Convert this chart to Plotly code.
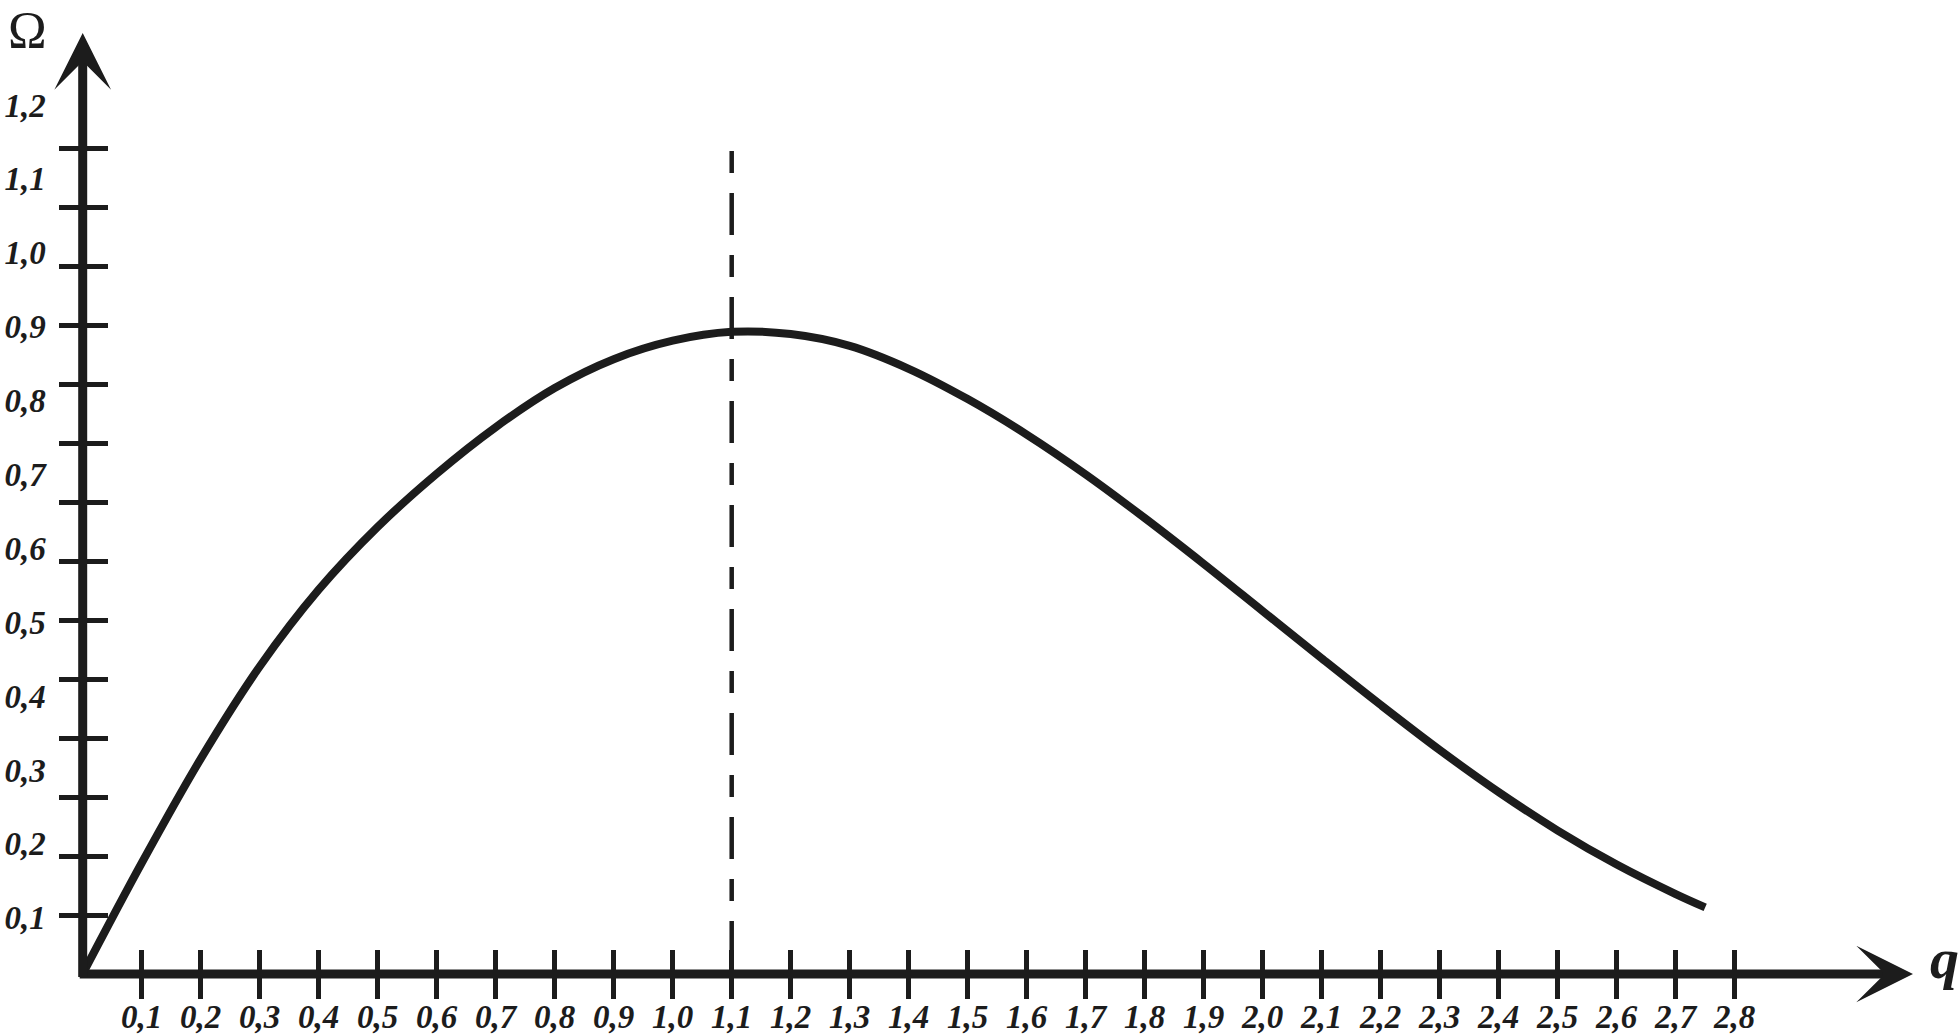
import plotly.graph_objects as go

# ---------------- data ----------------
q_vals = [0.0, 0.1, 0.2, 0.3, 0.4, 0.5, 0.6, 0.7, 0.8, 0.9, 1.0, 1.1, 1.2, 1.3,
          1.4, 1.5, 1.6, 1.7, 1.8, 1.9, 2.0, 2.1, 2.2, 2.3, 2.4, 2.5, 2.6, 2.7, 2.75]
omega_vals = [0.024, 0.174, 0.315, 0.440, 0.544, 0.629, 0.701, 0.764, 0.817, 0.856,
              0.881, 0.893, 0.890, 0.874, 0.843, 0.802, 0.754, 0.700, 0.641, 0.579,
              0.515, 0.451, 0.388, 0.327, 0.270, 0.218, 0.172, 0.132, 0.114]

x_tick_vals = [0.1, 0.2, 0.3, 0.4, 0.5, 0.6, 0.7, 0.8, 0.9, 1.0, 1.1, 1.2, 1.3, 1.4,
               1.5, 1.6, 1.7, 1.8, 1.9, 2.0, 2.1, 2.2, 2.3, 2.4, 2.5, 2.6, 2.7, 2.8]
x_tick_text = ["0,1", "0,2", "0,3", "0,4", "0,5", "0,6", "0,7", "0,8", "0,9", "1,0",
               "1,1", "1,2", "1,3", "1,4", "1,5", "1,6", "1,7", "1,8", "1,9", "2,0",
               "2,1", "2,2", "2,3", "2,4", "2,5", "2,6", "2,7", "2,8"]

# tick marks on the vertical axis (drawn on the same grid as the q axis)
y_tick_marks = [0.1, 0.2, 0.3, 0.4, 0.5, 0.6, 0.7, 0.8, 0.9, 1.0, 1.1, 1.2, 1.3, 1.4]
# printed Omega labels (their own spacing in the original drawing)
y_label_vals = [0.1, 0.2, 0.3, 0.4, 0.5, 0.6, 0.7, 0.8, 0.9, 1.0, 1.1, 1.2]
y_label_text = ["0,1", "0,2", "0,3", "0,4", "0,5", "0,6", "0,7", "0,8", "0,9",
                "1,0", "1,1", "1,2"]

dash_q = [1.1, 1.1]
dash_t = [1.395, 0.0]

# ---------------- geometry ----------------
W, H = 1959, 1034
ORIGIN_X, ORIGIN_Y = 82.7, 974.0          # pixel position of the axes corner
PX_Q = 590.0                              # pixels per unit of q (and of tick grid)
LBL_ZERO_Y, PX_LBL = 991.6, 738.8         # label scale of Omega

X0 = -ORIGIN_X / PX_Q
X1 = (W - ORIGIN_X) / PX_Q
T0 = -(H - ORIGIN_Y) / PX_Q
T1 = ORIGIN_Y / PX_Q
V0 = (LBL_ZERO_Y - H) / PX_LBL
V1 = LBL_ZERO_Y / PX_LBL

X_TIP = (1913 - ORIGIN_X) / PX_Q
Y_TIP = (ORIGIN_Y - 33) / PX_Q
EXT = 4.5 / PX_Q

INK = "#1c1c1c"
SERIF = "Liberation Serif"
tickfont = dict(family=SERIF, size=33, color=INK, weight="bold", style="italic")

fig = go.Figure()

fig.add_trace(go.Scatter(
    x=q_vals, y=omega_vals, xaxis="x", yaxis="y3", mode="lines",
    line=dict(color=INK, width=8, shape="spline", smoothing=1.0),
    showlegend=False, hoverinfo="skip"))

fig.add_trace(go.Scatter(
    x=dash_q, y=dash_t, xaxis="x", yaxis="y", mode="lines",
    line=dict(color=INK, width=4.5, dash="22px,20px,42px,20px"),
    showlegend=False, hoverinfo="skip"))

fig.add_trace(go.Scatter(x=[None], y=[None], xaxis="x2", yaxis="y2",
                         showlegend=False, hoverinfo="skip"))
fig.add_trace(go.Scatter(x=[None], y=[None], xaxis="x3", yaxis="y2",
                         showlegend=False, hoverinfo="skip"))

xpos = (H - ORIGIN_Y) / H
ypos = ORIGIN_X / W

common = dict(showgrid=False, zeroline=False, showline=False, tickmode="array")

fig.update_layout(
    width=W, height=H,
    margin=dict(l=0, r=0, t=0, b=0, autoexpand=False),
    paper_bgcolor="white", plot_bgcolor="white",
    # q axis: labels only
    xaxis=dict(range=[X0, X1], domain=[0, 1], anchor="free", position=xpos,
               ticks="", tickvals=x_tick_vals, ticktext=x_tick_text,
               tickfont=tickfont, ticklabelstandoff=20, **common),
    # q axis tick marks, below and above the line
    xaxis2=dict(range=[X0, X1], overlaying="x", anchor="free", position=xpos,
                side="bottom", ticks="outside", ticklen=24, tickwidth=5,
                tickcolor=INK, tickvals=x_tick_vals, showticklabels=False,
                **common),
    xaxis3=dict(range=[X0, X1], overlaying="x", anchor="free", position=xpos,
                side="bottom", ticks="inside", ticklen=24, tickwidth=5,
                tickcolor=INK, tickvals=x_tick_vals, showticklabels=False,
                **common),
    yaxis=dict(range=[T0, T1], domain=[0, 1], anchor="free", position=ypos,
               ticks="outside", ticklen=24, tickwidth=4.5, tickcolor=INK,
               tickvals=y_tick_marks, showticklabels=False, **common),
    yaxis2=dict(range=[T0, T1], overlaying="y", anchor="free", position=ypos,
                side="left", ticks="inside", ticklen=24, tickwidth=4.5,
                tickcolor=INK, tickvals=y_tick_marks, showticklabels=False,
                **common),
    yaxis3=dict(range=[V0, V1], overlaying="y", anchor="free", position=ypos,
                side="left", ticks="", tickvals=y_label_vals,
                ticktext=y_label_text, tickfont=tickfont,
                ticklabelstandoff=37, **common),
)

# axis lines with arrow heads
fig.add_annotation(x=X_TIP, y=0, ax=-EXT, ay=0, xref="x", yref="y",
                   axref="x", ayref="y", text="", showarrow=True,
                   arrowhead=3, arrowwidth=9, arrowsize=1.05, arrowcolor=INK)
fig.add_annotation(x=0, y=Y_TIP, ax=0, ay=-EXT, xref="x", yref="y",
                   axref="x", ayref="y", text="", showarrow=True,
                   arrowhead=3, arrowwidth=9, arrowsize=1.05, arrowcolor=INK)

# axis titles
fig.add_annotation(x=27 / W, y=1, xref="paper", yref="paper",
                   text="Ω", showarrow=False, xanchor="center", yanchor="top",
                   font=dict(family=SERIF, size=52, color=INK))
fig.add_annotation(x=1944 / W, y=1 - 958 / H, xref="paper", yref="paper",
                   text="q", showarrow=False, xanchor="center", yanchor="middle",
                   font=dict(family=SERIF, size=58, color=INK, weight="bold",
                             style="italic"))

fig.write_html("out.html", config={"displayModeBar": False},
               post_script="document.body.style.margin='0';"
                           "document.body.style.overflow='hidden';")
